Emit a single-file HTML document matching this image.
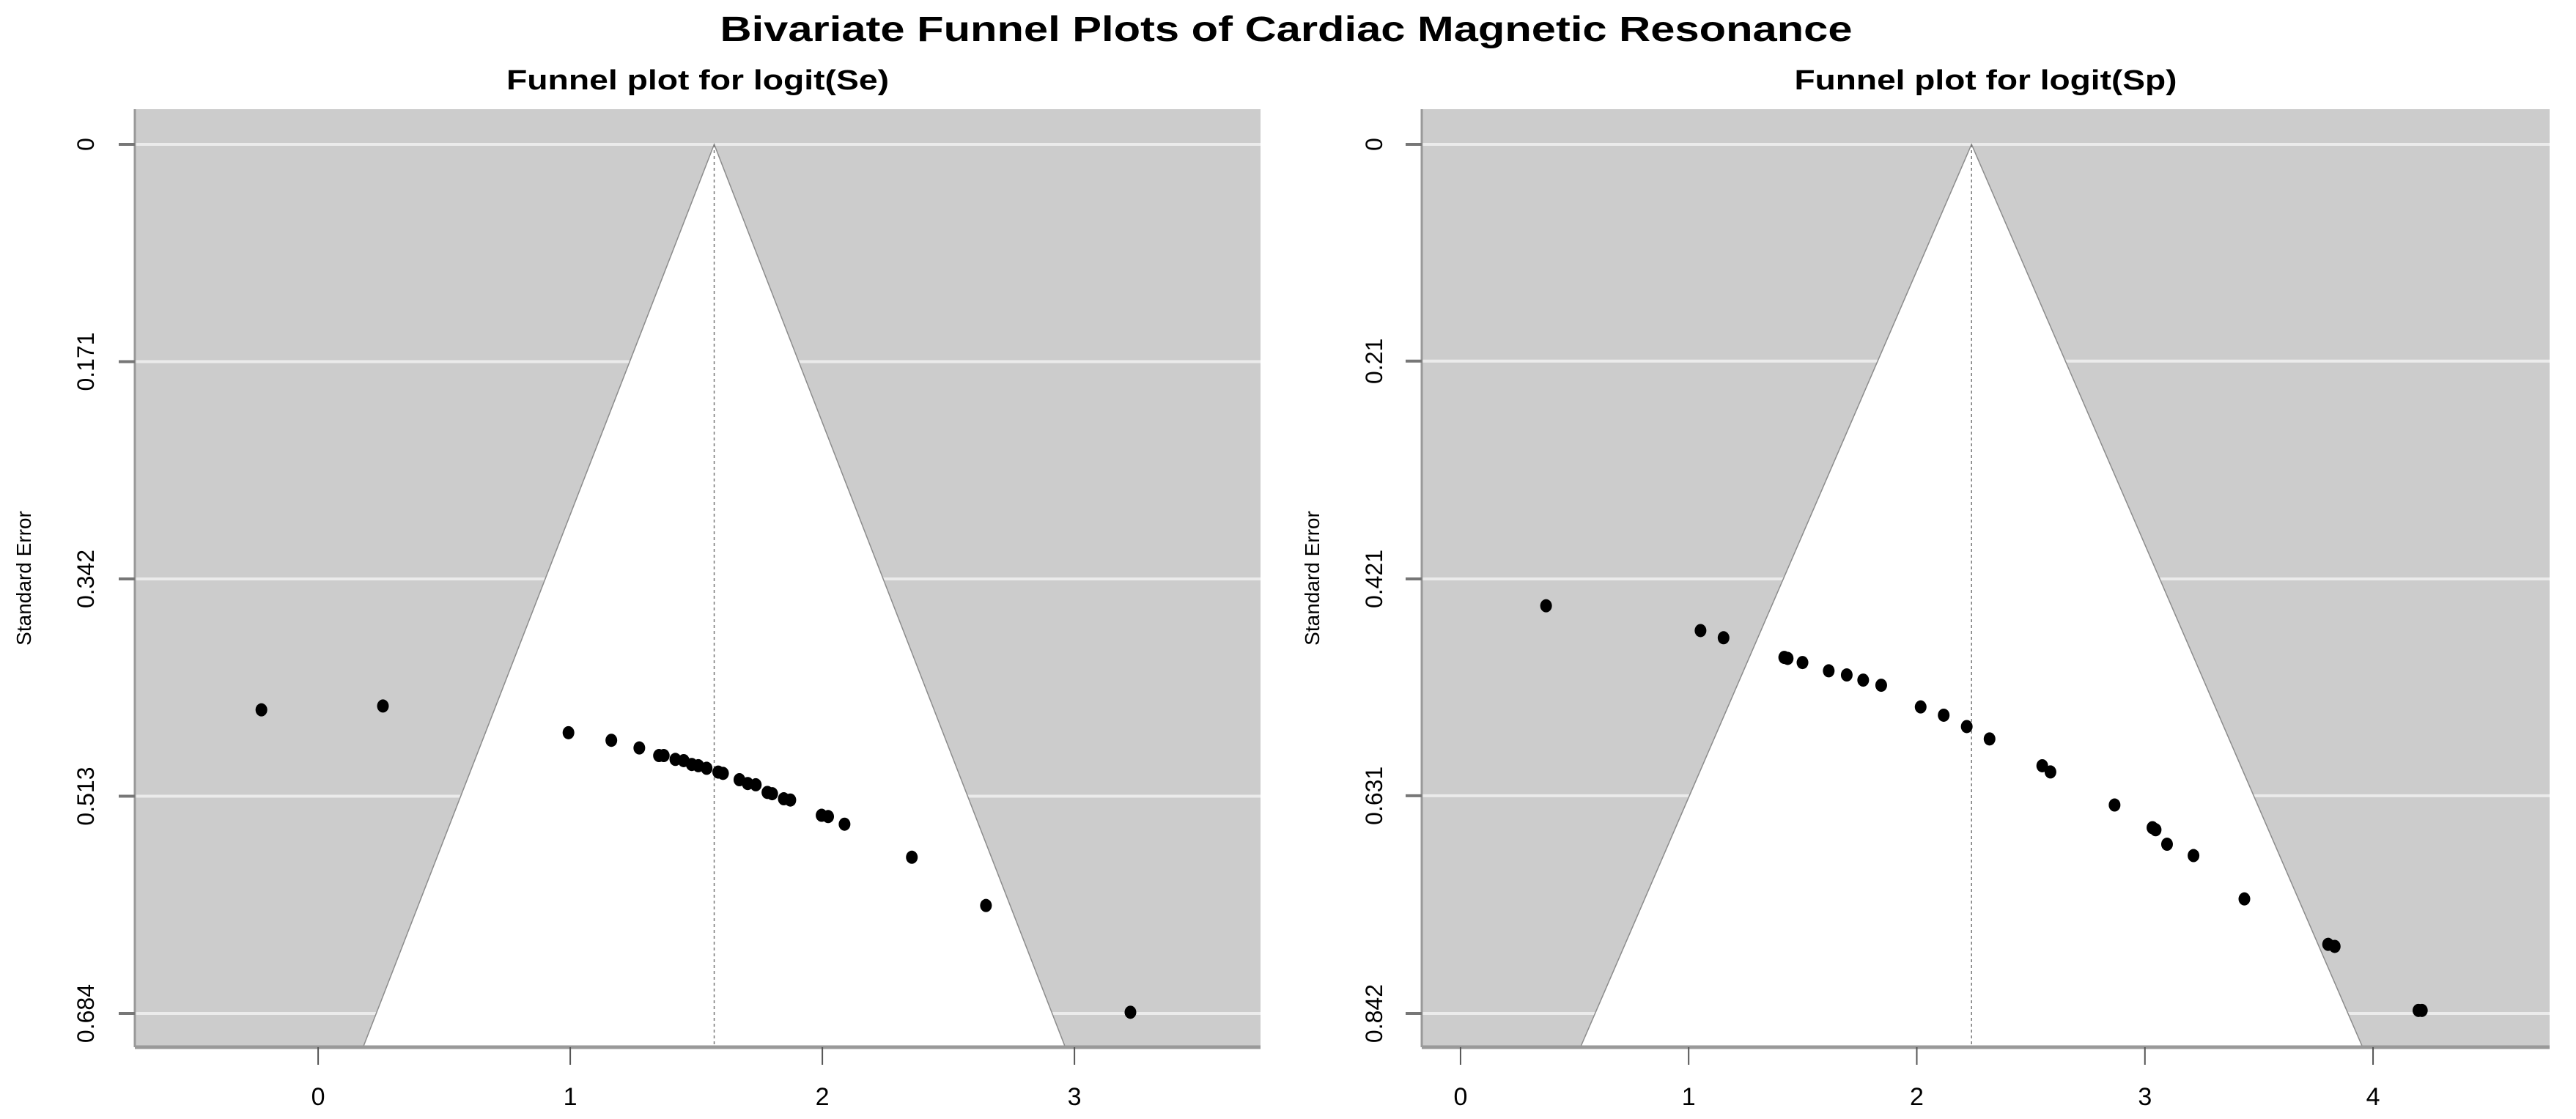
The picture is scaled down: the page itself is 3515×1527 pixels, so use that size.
<!DOCTYPE html>
<html><head><meta charset="utf-8"><style>
html,body{margin:0;padding:0;background:#fff;}
svg{display:block;font-family:"Liberation Sans",Arial,sans-serif;}
</style></head><body>
<svg id="chart" width="3515" height="1527" viewBox="0 0 3515 1527" xmlns="http://www.w3.org/2000/svg">
<text x="1755" y="56" text-anchor="middle" font-size="48" font-weight="bold" textLength="1545" lengthAdjust="spacingAndGlyphs">Bivariate Funnel Plots of Cardiac Magnetic Resonance</text>
<g id="p1"></g>
<g id="p2"></g>
</svg>
<script>
// Panel 1: logit(Se)
const seX = [-0.225,0.257,0.993,1.163,1.274,1.352,1.371,1.417,1.450,1.482,1.508,1.541,1.587,1.606,1.671,1.704,1.736,1.782,1.801,1.847,1.873,1.997,2.023,2.088,2.355,2.649,3.222];
const seY = [0.445,0.442,0.463,0.469,0.475,0.481,0.481,0.484,0.485,0.488,0.489,0.491,0.494,0.495,0.500,0.503,0.504,0.510,0.511,0.515,0.516,0.528,0.529,0.535,0.561,0.599,0.683];
const seCenter = 1.571;
const seXTicks = [0,1,2,3];
const seYTicks = [0,0.171,0.342,0.513,0.684];
const seYTickLabels = ["0","0.171","0.342","0.513","0.684"];
// Panel 2: logit(Sp)
const spX = [0.375,1.052,1.153,1.419,1.434,1.499,1.614,1.693,1.765,1.844,2.017,2.118,2.219,2.319,2.550,2.586,2.867,3.033,3.047,3.097,3.213,3.436,3.803,3.832,4.199,4.214];
const spY = [0.447,0.471,0.478,0.497,0.498,0.502,0.510,0.514,0.519,0.524,0.545,0.553,0.564,0.576,0.602,0.608,0.640,0.662,0.664,0.678,0.689,0.731,0.775,0.777,0.839,0.839];
const spCenter = 2.24;
const spXTicks = [0,1,2,3,4];
const spYTicks = [0,0.21,0.421,0.631,0.842];
const spYTickLabels = ["0","0.21","0.421","0.631","0.842"];

const NS="http://www.w3.org/2000/svg";
function mk(tag, attrs, parent){const e=document.createElementNS(NS,tag);for(const k in attrs)e.setAttribute(k,attrs[k]);parent.appendChild(e);return e;}

function panel(g, cfg){
  const {L,R,T,B,xmin,xmax,xs,ys,center,xticks,yticks,ylabels,title,titleW,ylabX,ytitleX}=cfg;
  const y0=197;
  const sx=v=>L+(v-xmin)/(xmax-xmin)*(R-L);
  const sy=v=>y0+v*cfg.ppu;
  const vBottom=(B-y0)/cfg.ppu;
  const bg=mk('rect',{x:L,y:T,width:R-L,height:B-T,fill:'#cccccc'},g);
  
  
  yticks.forEach((t,i)=>{
    const gl=mk('line',{x1:L,x2:R,y1:sy(t),y2:sy(t),stroke:'#ebebeb','stroke-width':4},g);
    
    
  });
  const hw=1.96*vBottom;
  const fun=mk('polygon',{points:`${sx(center)},${sy(0)} ${sx(center-hw)},${B} ${sx(center+hw)},${B}`,fill:'#ffffff',stroke:'#8c8c8c','stroke-width':1.5},g);
  
  
  const cl=mk('line',{x1:sx(center),x2:sx(center),y1:sy(0),y2:B,stroke:'#777','stroke-width':1.5,'stroke-dasharray':'4,4'},g);
  
  
  const la=mk('line',{x1:L,x2:L,y1:T,y2:B,stroke:'#999','stroke-width':3},g);
  
  
  const ba=mk('line',{x1:L,x2:R,y1:B,y2:B,stroke:'#999','stroke-width':5},g);
  
  
  xticks.forEach(t=>{
    const tk=mk('line',{x1:sx(t),x2:sx(t),y1:B,y2:B+24,stroke:'#555','stroke-width':2},g);
    
    
    const tl=mk('text',{x:sx(t),y:1508,'font-size':34,'text-anchor':'middle',fill:'#000'},g);
    tl.textContent=String(t);
    
    
  });
  yticks.forEach((t,i)=>{
    const tk=mk('line',{x1:L-22,x2:L,y1:sy(t),y2:sy(t),stroke:'#777','stroke-width':4},g);
    
    
    const tl=mk('text',{x:0,y:0,'font-size':32,'text-anchor':'middle',fill:'#000',transform:`translate(${ylabX},${sy(t)}) rotate(-90)`},g);
    tl.textContent=ylabels[i];
    
    
  });
  xs.forEach((v,i)=>{
    const p=mk('ellipse',{cx:sx(v),cy:sy(ys[i]),rx:8,ry:9,fill:'#000'},g);
    
    
  });
  const tt=mk('text',{x:(L+R)/2,y:122,'font-size':38,'font-weight':'bold','text-anchor':'middle',textLength:titleW,lengthAdjust:'spacingAndGlyphs'},g);
  tt.textContent=title;
  
  
  const yt=mk('text',{x:0,y:0,'font-size':28,'text-anchor':'middle',transform:`translate(${ytitleX},${(T+B)/2}) rotate(-90)`},g);
  yt.textContent='Standard Error';
  
  
}
panel(document.getElementById('p1'),{L:184,R:1720,T:149,B:1429,xmin:-0.727,xmax:3.738,ppu:1734,xs:seX,ys:seY,center:seCenter,xticks:seXTicks,yticks:seYTicks,ylabels:seYTickLabels,title:'Funnel plot for logit(Se)',titleW:522,ylabX:128,ytitleX:42});
panel(document.getElementById('p2'),{L:1940,R:3479,T:149,B:1429,xmin:-0.170,xmax:4.774,ppu:1408.6,xs:spX,ys:spY,center:spCenter,xticks:spXTicks,yticks:spYTicks,ylabels:spYTickLabels,title:'Funnel plot for logit(Sp)',titleW:522,ylabX:1886,ytitleX:1800});
</script>
</body></html>
